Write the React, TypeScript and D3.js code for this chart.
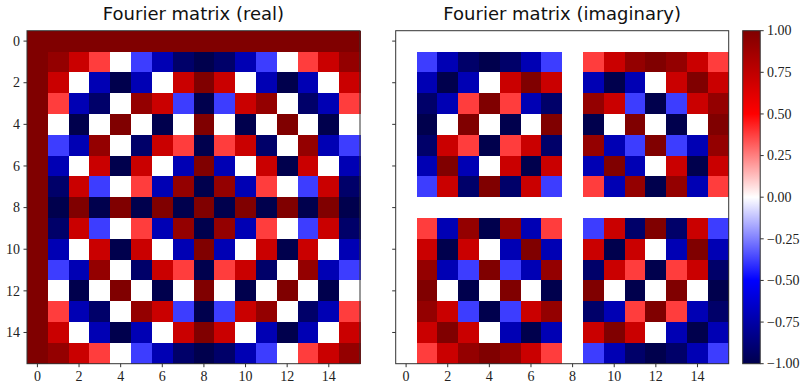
import * as d3 from 'd3';

// Fourier matrix (16x16)
const realRows: number[][] = [
  [1, 1, 1, 1, 1, 1, 1, 1, 1, 1, 1, 1, 1, 1, 1, 1],
  [1, 0.92, 0.71, 0.38, 0, -0.38, -0.71, -0.92, -1, -0.92, -0.71, -0.38, 0, 0.38, 0.71, 0.92],
  [1, 0.71, 0, -0.71, -1, -0.71, 0, 0.71, 1, 0.71, 0, -0.71, -1, -0.71, 0, 0.71],
  [1, 0.38, -0.71, -0.92, 0, 0.92, 0.71, -0.38, -1, -0.38, 0.71, 0.92, 0, -0.92, -0.71, 0.38],
  [1, 0, -1, 0, 1, 0, -1, 0, 1, 0, -1, 0, 1, 0, -1, 0],
  [1, -0.38, -0.71, 0.92, 0, -0.92, 0.71, 0.38, -1, 0.38, 0.71, -0.92, 0, 0.92, -0.71, -0.38],
  [1, -0.71, 0, 0.71, -1, 0.71, 0, -0.71, 1, -0.71, 0, 0.71, -1, 0.71, 0, -0.71],
  [1, -0.92, 0.71, -0.38, 0, 0.38, -0.71, 0.92, -1, 0.92, -0.71, 0.38, 0, -0.38, 0.71, -0.92],
  [1, -1, 1, -1, 1, -1, 1, -1, 1, -1, 1, -1, 1, -1, 1, -1],
  [1, -0.92, 0.71, -0.38, 0, 0.38, -0.71, 0.92, -1, 0.92, -0.71, 0.38, 0, -0.38, 0.71, -0.92],
  [1, -0.71, 0, 0.71, -1, 0.71, 0, -0.71, 1, -0.71, 0, 0.71, -1, 0.71, 0, -0.71],
  [1, -0.38, -0.71, 0.92, 0, -0.92, 0.71, 0.38, -1, 0.38, 0.71, -0.92, 0, 0.92, -0.71, -0.38],
  [1, 0, -1, 0, 1, 0, -1, 0, 1, 0, -1, 0, 1, 0, -1, 0],
  [1, 0.38, -0.71, -0.92, 0, 0.92, 0.71, -0.38, -1, -0.38, 0.71, 0.92, 0, -0.92, -0.71, 0.38],
  [1, 0.71, 0, -0.71, -1, -0.71, 0, 0.71, 1, 0.71, 0, -0.71, -1, -0.71, 0, 0.71],
  [1, 0.92, 0.71, 0.38, 0, -0.38, -0.71, -0.92, -1, -0.92, -0.71, -0.38, 0, 0.38, 0.71, 0.92],
];

const imagRows: number[][] = [
  [0, 0, 0, 0, 0, 0, 0, 0, 0, 0, 0, 0, 0, 0, 0, 0],
  [0, -0.38, -0.71, -0.92, -1, -0.92, -0.71, -0.38, 0, 0.38, 0.71, 0.92, 1, 0.92, 0.71, 0.38],
  [0, -0.71, -1, -0.71, 0, 0.71, 1, 0.71, 0, -0.71, -1, -0.71, 0, 0.71, 1, 0.71],
  [0, -0.92, -0.71, 0.38, 1, 0.38, -0.71, -0.92, 0, 0.92, 0.71, -0.38, -1, -0.38, 0.71, 0.92],
  [0, -1, 0, 1, 0, -1, 0, 1, 0, -1, 0, 1, 0, -1, 0, 1],
  [0, -0.92, 0.71, 0.38, -1, 0.38, 0.71, -0.92, 0, 0.92, -0.71, -0.38, 1, -0.38, -0.71, 0.92],
  [0, -0.71, 1, -0.71, 0, 0.71, -1, 0.71, 0, -0.71, 1, -0.71, 0, 0.71, -1, 0.71],
  [0, -0.38, 0.71, -0.92, 1, -0.92, 0.71, -0.38, 0, 0.38, -0.71, 0.92, -1, 0.92, -0.71, 0.38],
  [0, 0, 0, 0, 0, 0, 0, 0, 0, 0, 0, 0, 0, 0, 0, 0],
  [0, 0.38, -0.71, 0.92, -1, 0.92, -0.71, 0.38, 0, -0.38, 0.71, -0.92, 1, -0.92, 0.71, -0.38],
  [0, 0.71, -1, 0.71, 0, -0.71, 1, -0.71, 0, 0.71, -1, 0.71, 0, -0.71, 1, -0.71],
  [0, 0.92, -0.71, -0.38, 1, -0.38, -0.71, 0.92, 0, -0.92, 0.71, 0.38, -1, 0.38, 0.71, -0.92],
  [0, 1, 0, -1, 0, 1, 0, -1, 0, 1, 0, -1, 0, 1, 0, -1],
  [0, 0.92, 0.71, -0.38, -1, -0.38, 0.71, 0.92, 0, -0.92, -0.71, 0.38, 1, 0.38, -0.71, -0.92],
  [0, 0.71, 1, 0.71, 0, -0.71, -1, -0.71, 0, 0.71, 1, 0.71, 0, -0.71, -1, -0.71],
  [0, 0.38, 0.71, 0.92, 1, 0.92, 0.71, 0.38, 0, -0.38, -0.71, -0.92, -1, -0.92, -0.71, -0.38],
];

const indexTicks = [0, 2, 4, 6, 8, 10, 12, 14];
const colorbarTicks = [1, 0.75, 0.5, 0.25, 0, -0.25, -0.5, -0.75, -1];
const titles = ['Fourier matrix (real)', 'Fourier matrix (imaginary)'];

const W = 802;
const H = 382;
const top = 30.7;
const size = 333;
const panelX = [27, 395.7];
const cbar = { x: 742.7, w: 17.5 };

// matplotlib "seismic"
const seismic = d3
  .scaleLinear<string>()
  .domain([-1, -0.5, 0, 0.5, 1])
  .range(['rgb(0,0,77)', 'rgb(0,0,255)', 'rgb(255,255,255)', 'rgb(255,0,0)', 'rgb(128,0,0)'])
  .interpolate(d3.interpolateRgb)
  .clamp(true);

const tickFont = "'Liberation Serif', 'DejaVu Serif', serif";
const titleFont = "'DejaVu Sans', sans-serif";
const spine = '#333';

const fmt = (v: number) => (v < 0 ? '\u2212' : '') + Math.abs(v).toFixed(2);

function Panel({ rows, x0, title, showYLabels }: { rows: number[][]; x0: number; title: string; showYLabels: boolean }) {
  const idx = d3.range(16);
  const x = d3.scaleBand<number>().domain(idx).range([x0, x0 + size]);
  const y = d3.scaleBand<number>().domain(idx).range([top, top + size]);
  const bw = x.bandwidth();
  return (
    <g>
      <text x={x0 + size / 2} y={19.5} textAnchor="middle" fontFamily={titleFont} fontSize={18} fill="#111">
        {title}
      </text>
      <g shapeRendering="crispEdges">
        {rows.map((row, j) =>
          row.map((v, k) => (
            <rect key={`${j}-${k}`} x={x(k)} y={y(j)} width={bw + 0.5} height={y.bandwidth() + 0.5} fill={seismic(v)} />
          ))
        )}
      </g>
      <rect x={x0} y={top} width={size} height={size} fill="none" stroke={spine} strokeWidth={1} />
      {indexTicks.map((t) => {
        const cx = (x(t) as number) + bw / 2;
        const cy = (y(t) as number) + y.bandwidth() / 2;
        return (
          <g key={t}>
            <line x1={cx} x2={cx} y1={top + size} y2={top + size + 3.5} stroke={spine} />
            <text x={cx} y={380.5} textAnchor="middle" fontFamily={tickFont} fontSize={14} fill="#222">
              {t}
            </text>
            <line x1={x0} x2={x0 - 3.5} y1={cy} y2={cy} stroke={spine} />
            {showYLabels && (
              <text x={20} y={cy + 4.7} textAnchor="end" fontFamily={tickFont} fontSize={14} fill="#222">
                {t}
              </text>
            )}
          </g>
        );
      })}
    </g>
  );
}

export default function App() {
  const cy = d3.scaleLinear().domain([1, -1]).range([top, top + size]);
  const stops = d3.range(0, 1.0001, 0.05);
  return (
    <svg width={W} height={H} style={{ position: 'absolute', left: 0, top: 0, background: '#fff' }}>
      <defs>
        <linearGradient id="seis" x1="0" y1="1" x2="0" y2="0">
          {stops.map((s) => (
            <stop key={s} offset={s} stopColor={seismic(-1 + 2 * s)} />
          ))}
        </linearGradient>
      </defs>
      <Panel rows={realRows} x0={panelX[0]} title={titles[0]} showYLabels={true} />
      <Panel rows={imagRows} x0={panelX[1]} title={titles[1]} showYLabels={false} />
      <rect x={cbar.x} y={top} width={cbar.w} height={size} fill="url(#seis)" stroke={spine} strokeWidth={1} />
      {colorbarTicks.map((t) => (
        <g key={t}>
          <line x1={cbar.x + cbar.w} x2={cbar.x + cbar.w + 3.5} y1={cy(t)} y2={cy(t)} stroke={spine} />
          <text x={767} y={cy(t) + 4.7} fontFamily={tickFont} fontSize={14} fill="#222">
            {fmt(t)}
          </text>
        </g>
      ))}
    </svg>
  );
}
